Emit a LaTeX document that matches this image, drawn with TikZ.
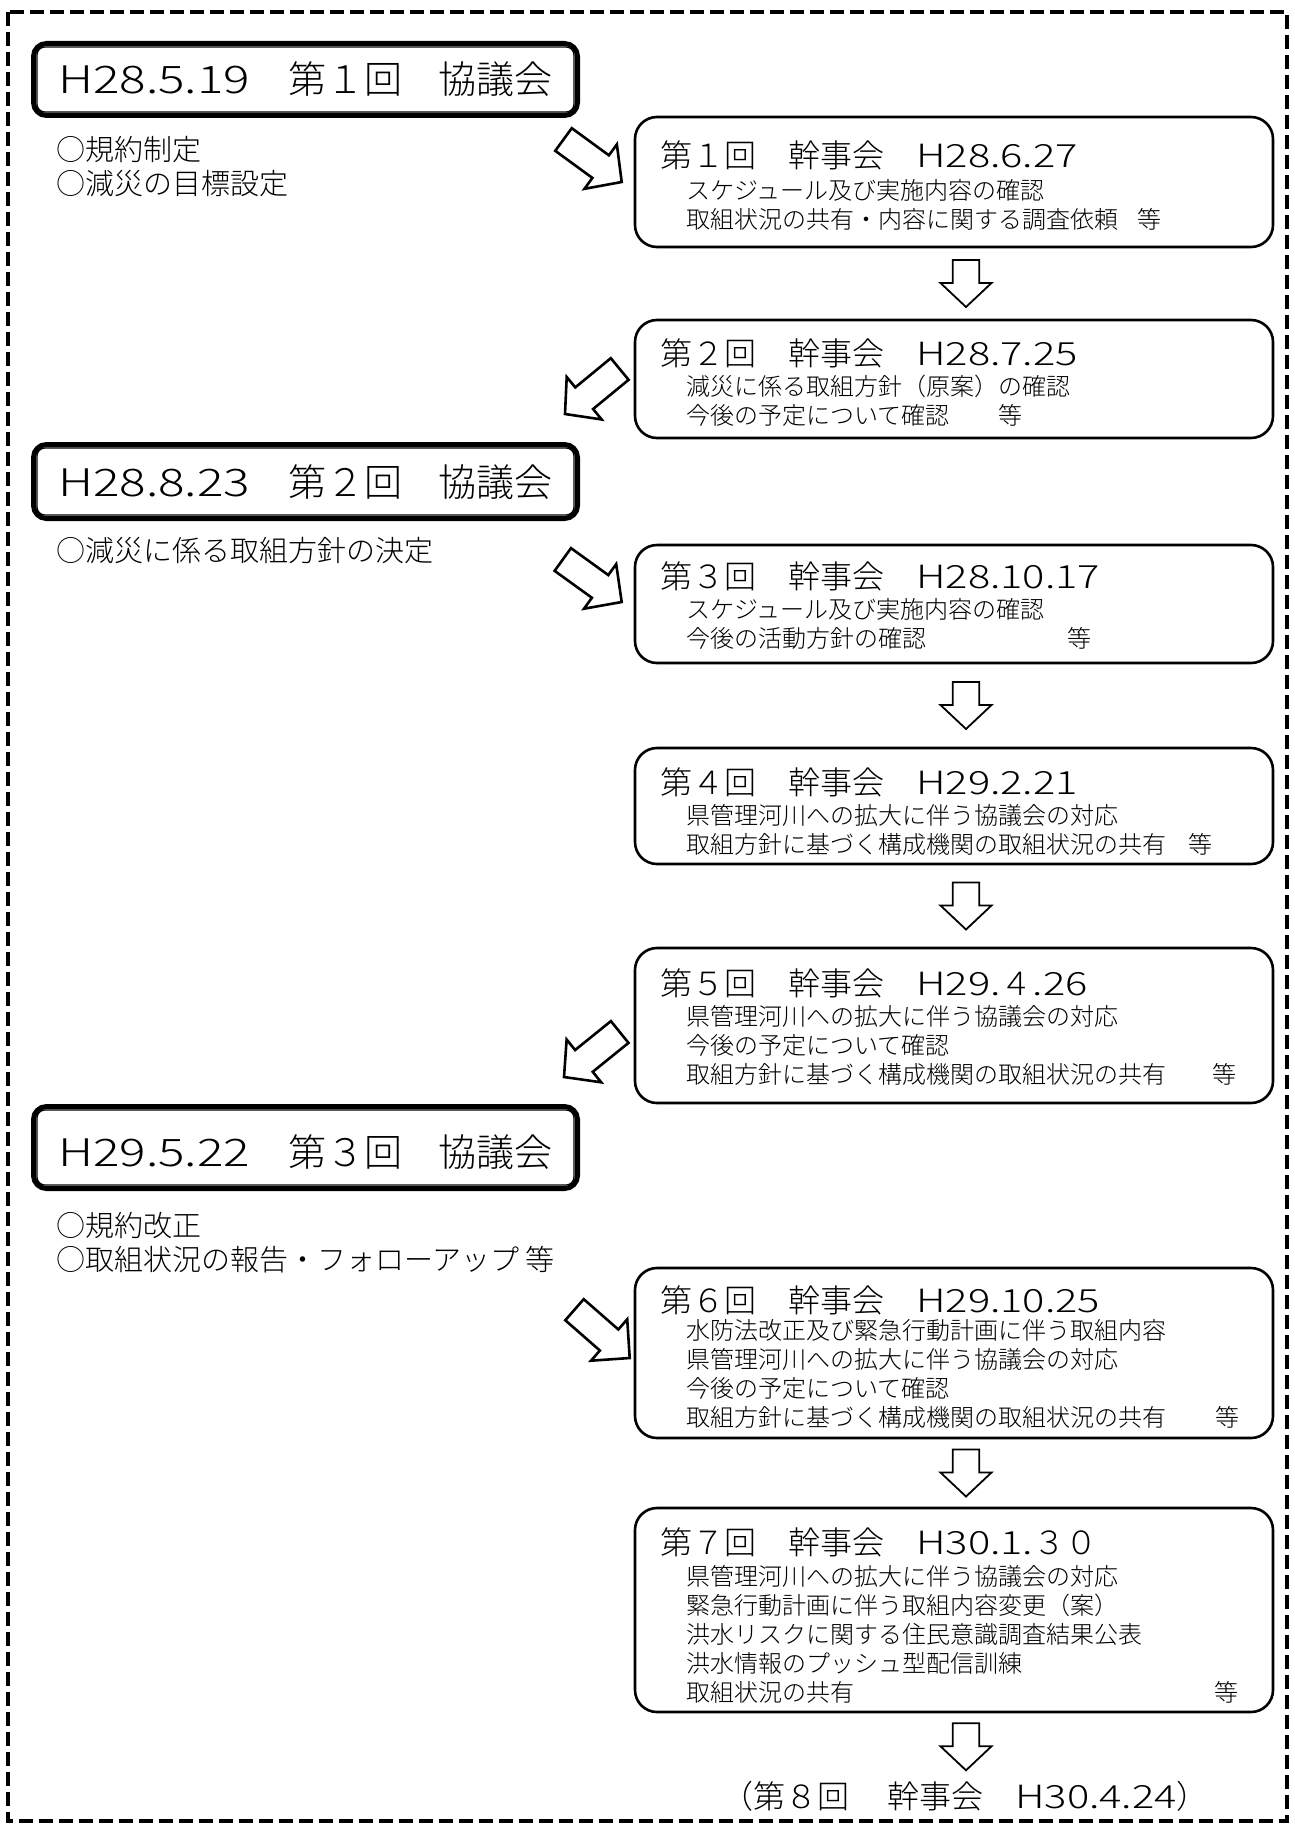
\documentclass[tikz,border=0pt]{standalone}
\usepackage{fontspec}
\usepackage{graphicx}
\IfFontExistsTF{Noto Sans CJK JP Light}{\setmainfont{Noto Sans CJK JP Light}}{\setmainfont{Noto Sans CJK JP}}
\usetikzlibrary{calc}
\newcommand\wid[1]{\scalebox{1.3}[1]{#1}}
\newcommand\blockarrow[6]{%
  \coordinate (bhead) at ($(#2)!#6!(#3)$);
  \draw[#1] ($(#2)!#4!90:(#3)$) -- ($(bhead)!#4!90:(#3)$) -- ($(bhead)!#5!90:(#3)$) -- (#3)
    -- ($(bhead)!#5!-90:(#3)$) -- ($(bhead)!#4!-90:(#3)$) -- ($(#2)!#4!-90:(#3)$) -- cycle;}
\tikzset{
  kbox/.style={draw, line width=2.6pt, rounded corners=22pt, minimum width=638pt, inner sep=0pt},
  cbox/.style={draw, line width=5pt, rounded corners=13pt, minimum width=544pt, inner sep=0pt},
  cinner/.style={draw, line width=1.2pt, rounded corners=8pt},
  ctext/.style={anchor=base west, inner sep=0pt, font=\fontsize{38}{46}\selectfont},
  ttext/.style={anchor=base west, inner sep=0pt, font=\fontsize{32}{38}\selectfont},
  btext/.style={anchor=base west, inner sep=0pt, align=left, font=\fontsize{24}{29}\selectfont},
  ltext/.style={anchor=base west, inner sep=0pt, align=left, font=\fontsize{29}{34}\selectfont},
  diag/.style={draw, line width=2.6pt, line join=miter, fill=white},
  down/.style={draw, line width=1.8pt, line join=miter, fill=white},
  border/.style={draw, line width=4pt, dash pattern=on 14pt off 6pt},
}
\begin{document}
\begin{tikzpicture}[x=1pt,y=-1pt]
\useasboundingbox (0,0) rectangle (1295,1825);
\fill[white] (0,0) rectangle (1295,1825);
\draw[border] (8,12) rectangle (1287,1821);

% council boxes (multi-line nodes: base = last line)
\node[cbox, minimum height=72pt] (c1) at (305.5,79.5) {};
\draw[cinner] ($(c1.north west)+(6,6)$) rectangle ($(c1.south east)+(-6,-6)$);
\node[ctext] (c1t) at (58,94) {\makebox[230pt][l]{\wid{H28.5.19}}\makebox[150pt][l]{第１回}協議会};
\node[ltext] (c1l) at (56,194) {○規約制定\\○減災の目標設定};

\node[cbox, minimum height=74pt] (c2) at (305.5,481.5) {};
\draw[cinner] ($(c2.north west)+(6,6)$) rectangle ($(c2.south east)+(-6,-6)$);
\node[ctext] (c2t) at (58,496) {\makebox[230pt][l]{\wid{H28.8.23}}\makebox[150pt][l]{第２回}協議会};
\node[ltext] (c2l) at (56,561) {○減災に係る取組方針の決定};

\node[cbox, minimum height=82pt] (c3) at (305.5,1147.5) {};
\draw[cinner] ($(c3.north west)+(6,6)$) rectangle ($(c3.south east)+(-6,-6)$);
\node[ctext] (c3t) at (58,1166) {\makebox[230pt][l]{\wid{H29.5.22}}\makebox[150pt][l]{第３回}協議会};
\node[ltext] (c3l) at (56,1270) {○規約改正\\○取組状況の報告・フォローアップ 等};

% kanji boxes
\node[kbox, minimum height=130pt] (k1) at (954,182) {};
\node[ttext] (k1t) at (660,167) {\makebox[128pt][l]{第１回}\makebox[128pt][l]{幹事会}\wid{H28.6.27}};
\node[btext] (k1b) at (686,228) {スケジュール及び実施内容の確認\\\makebox[451pt][l]{取組状況の共有・内容に関する調査依頼}等};

\node[kbox, minimum height=118pt] (k2) at (954,379) {};
\node[ttext] (k2t) at (660,365) {\makebox[128pt][l]{第２回}\makebox[128pt][l]{幹事会}\wid{H28.7.25}};
\node[btext] (k2b) at (686,424) {減災に係る取組方針（原案）の確認\\\makebox[312pt][l]{今後の予定について確認}等};

\node[kbox, minimum height=118pt] (k3) at (954,604) {};
\node[ttext] (k3t) at (660,588) {\makebox[128pt][l]{第３回}\makebox[128pt][l]{幹事会}\wid{H28.10.17}};
\node[btext] (k3b) at (686,647) {スケジュール及び実施内容の確認\\\makebox[381pt][l]{今後の活動方針の確認}等};

\node[kbox, minimum height=116pt] (k4) at (954,806) {};
\node[ttext] (k4t) at (660,794) {\makebox[128pt][l]{第４回}\makebox[128pt][l]{幹事会}\wid{H29.2.21}};
\node[btext] (k4b) at (686,853) {県管理河川への拡大に伴う協議会の対応\\\makebox[502pt][l]{取組方針に基づく構成機関の取組状況の共有}等};

\node[kbox, minimum height=155pt] (k5) at (954,1025.5) {};
\node[ttext] (k5t) at (660,995) {\makebox[128pt][l]{第５回}\makebox[128pt][l]{幹事会}\wid{H29.}４\wid{.26}};
\node[btext] (k5b) at (686,1083) {県管理河川への拡大に伴う協議会の対応\\今後の予定について確認\\\makebox[526pt][l]{取組方針に基づく構成機関の取組状況の共有}等};

\node[kbox, minimum height=170pt] (k6) at (954,1353) {};
\node[ttext] (k6t) at (660,1312) {\makebox[128pt][l]{第６回}\makebox[128pt][l]{幹事会}\wid{H29.10.25}};
\node[btext] (k6b) at (686,1426) {水防法改正及び緊急行動計画に伴う取組内容\\県管理河川への拡大に伴う協議会の対応\\今後の予定について確認\\\makebox[529pt][l]{取組方針に基づく構成機関の取組状況の共有}等};

\node[kbox, minimum height=204pt] (k7) at (954,1610) {};
\node[ttext] (k7t) at (660,1554) {\makebox[128pt][l]{第７回}\makebox[128pt][l]{幹事会}\wid{H30.1.}３０};
\node[btext] (k7b) at (686,1701) {県管理河川への拡大に伴う協議会の対応\\緊急行動計画に伴う取組内容変更（案）\\洪水リスクに関する住民意識調査結果公表\\洪水情報のプッシュ型配信訓練\\\makebox[528pt][l]{取組状況の共有}等};

\node[ttext] (k8) at (721,1808) {（\makebox[134pt][l]{第８回}\makebox[128pt][l]{幹事会}\wid{H30.4.24}）};

% diagonal arrows
\coordinate (a1s) at (563.5,139.5);
\coordinate (a1e) at ($(k1.west)+(-12,0)$);
\blockarrow{diag}{a1s}{a1e}{14pt}{27.5pt}{46pt}
\coordinate (a2s) at ($(k2.west)+(-14,-10)$);
\coordinate (a2e) at (565,414);
\blockarrow{diag}{a2s}{a2e}{14pt}{27.5pt}{46pt}
\coordinate (a3s) at (562.8,559.5);
\coordinate (a3e) at ($(k3.west)+(-12,-2)$);
\blockarrow{diag}{a3s}{a3e}{14pt}{27.5pt}{46pt}
\coordinate (a4s) at ($(k5.west)+(-14,6.5)$);
\coordinate (a4e) at (564,1077);
\blockarrow{diag}{a4s}{a4e}{14pt}{27.5pt}{46pt}
\coordinate (a5s) at (574.5,1309.7);
\coordinate (a5e) at ($(k6.west)+(-4,5)$);
\blockarrow{diag}{a5s}{a5e}{14pt}{27.5pt}{46pt}

% down arrows
\coordinate (d1s) at ($(k1.south)!0.5!(k2.north)+(12,-23.5)$);
\coordinate (d1e) at ($(k1.south)!0.5!(k2.north)+(12,23.5)$);
\blockarrow{down}{d1s}{d1e}{13.3pt}{25.5pt}{23pt}
\coordinate (d2s) at ($(k3.south)!0.5!(k4.north)+(12,-23.5)$);
\coordinate (d2e) at ($(k3.south)!0.5!(k4.north)+(12,23.5)$);
\blockarrow{down}{d2s}{d2e}{13.3pt}{25.5pt}{23pt}
\coordinate (d3s) at ($(k4.south)!0.5!(k5.north)+(12,-23.5)$);
\coordinate (d3e) at ($(k4.south)!0.5!(k5.north)+(12,23.5)$);
\blockarrow{down}{d3s}{d3e}{13.3pt}{25.5pt}{23pt}
\coordinate (d4s) at ($(k6.south)!0.5!(k7.north)+(12,-23.5)$);
\coordinate (d4e) at ($(k6.south)!0.5!(k7.north)+(12,23.5)$);
\blockarrow{down}{d4s}{d4e}{13.3pt}{25.5pt}{23pt}
\coordinate (d5s) at ($(k7.south)+(12,10)$);
\coordinate (d5e) at ($(k7.south)+(12,57)$);
\blockarrow{down}{d5s}{d5e}{13.3pt}{25.5pt}{23pt}
\end{tikzpicture}
\end{document}
